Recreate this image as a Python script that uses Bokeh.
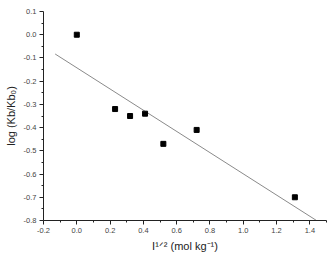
from bokeh.plotting import figure
from bokeh.models import Range1d, FixedTicker, PrintfTickFormatter
from bokeh.embed import file_html
from bokeh.resources import INLINE

# data
sqrt_I = [0.00, 0.23, 0.32, 0.41, 0.52, 0.72, 1.31]
log_ratio = [0.00, -0.32, -0.35, -0.34, -0.47, -0.41, -0.70]
fit_x = [-0.13, 1.44]
fit_y = [-0.083, -0.80]
x_ticks = [-0.2, 0.0, 0.2, 0.4, 0.6, 0.8, 1.0, 1.2, 1.4]
x_minor = [-0.1, 0.1, 0.3, 0.5, 0.7, 0.9, 1.1, 1.3, 1.5]
y_ticks = [-0.8, -0.7, -0.6, -0.5, -0.4, -0.3, -0.2, -0.1, 0.0, 0.1]
y_minor = [-0.75, -0.65, -0.55, -0.45, -0.35, -0.25, -0.15, -0.05, 0.05]
x_label = "I\u00b9\u141f\u00b2 (mol kg\u207b\u00b9)"
y_label = "log (Kb/Kb\u2080)"

W, H = 332, 256
L, R, T, B = 43, 6, 11, 36
X0, X1, Y0, Y1 = -0.2, 1.5, -0.8, 0.1

p = figure(width=W, height=H, output_backend="svg", toolbar_location=None,
           x_range=Range1d(X0, X1), y_range=Range1d(Y0, Y1),
           min_border_left=L, min_border_right=R, min_border_top=T, min_border_bottom=B)
p.outline_line_color = None
p.grid.visible = False
p.background_fill_color = "white"
p.border_fill_color = "white"

for ax, maj, mnr in ((p.xaxis[0], x_ticks, x_minor), (p.yaxis[0], y_ticks, y_minor)):
    ax.ticker = FixedTicker(ticks=maj, minor_ticks=mnr)
    ax.formatter = PrintfTickFormatter(format="%.1f")
    ax.major_label_text_font = "Liberation Sans"
    ax.major_label_text_font_size = "7.5px"
    ax.major_label_text_color = "#444444"
    ax.axis_line_color = "#222222"
    ax.major_tick_line_color = "#222222"
    ax.minor_tick_line_color = "#222222"
    ax.major_tick_out = 4
    ax.major_tick_in = 0
    ax.minor_tick_out = 2
    ax.minor_tick_in = 0
    ax.major_label_standoff = 3
    ax.axis_label_text_font = "Liberation Sans"
    ax.axis_label_text_font_size = "11px"
    ax.axis_label_text_font_style = "normal"
    ax.axis_label_text_color = "#222222"
    ax.axis_label_standoff = 4

p.xaxis[0].axis_label = x_label
p.yaxis[0].axis_label = y_label

p.line(fit_x, fit_y, line_color="#8a8a8a", line_width=1)
p.scatter(sqrt_I, log_ratio, marker="square", size=5, fill_color="black", line_color="black")

open("out.html", "w").write(file_html(p, INLINE))
